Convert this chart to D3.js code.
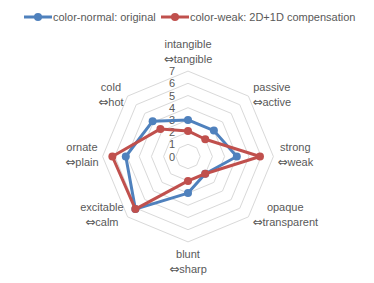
<!doctype html>
<html>
<head>
<meta charset="utf-8"/>
<style>
  html, body { margin: 0; padding: 0; background: #fff; }
  svg text { font-family: "Liberation Sans", Arial, sans-serif; font-size: 11px; fill: #595959; }
  svg tspan.arrow { font-family: "DejaVu Sans", sans-serif; font-size: 12px; }
</style>
<script src="https://d3js.org/d3.v7.min.js"></script>
</head>
<body>
<svg id="chart" width="374" height="283"></svg>
<script>
// axes, clockwise from the top
var axisTop = ["intangible", "passive", "strong", "opaque", "blunt", "excitable", "ornate", "cold"];
var axisBottom = ["tangible", "active", "weak", "transparent", "sharp", "calm", "plain", "hot"];
var ticks = [0, 1, 2, 3, 4, 5, 6, 7];

var seriesNames = ["color-normal: original", "color-weak: 2D+1D compensation"];
var seriesColors = ["#4F81BD", "#C0504D"];
var normalValues = [3.0, 3.0, 4.0, 2.0, 3.0, 6.1, 5.1, 4.1];
var weakValues = [2.1, 2.0, 5.9, 2.0, 2.0, 6.1, 6.2, 3.2];

var svg = d3.select("#chart");
var cx = 188, cy = 156.5, R = 85.4;

var r = d3.scaleLinear().domain([0, 7]).range([0, R]);
var angle = d3.scaleLinear().domain([0, axisTop.length]).range([0, 2 * Math.PI]);

function pt(i, v) {
    var a = angle(i);
    return [cx + r(v) * Math.sin(a), cy - r(v) * Math.cos(a)];
}

// grid rings
var grid = svg.append("g");
ticks.slice(1).forEach(function(t) {
    grid.append("path")
        .attr("d", d3.line()(axisTop.map(function(d, i) { return pt(i, t); })) + "Z")
        .attr("fill", "none")
        .attr("stroke", "#D9D9D9")
        .attr("stroke-width", 1);
});

// tick labels
svg.append("g").selectAll("text")
    .data(ticks).enter()
    .append("text")
    .attr("x", cx - 13)
    .attr("y", function(d) { return cy - r(d); })
    .attr("dominant-baseline", "central")
    .attr("text-anchor", "end")
    .text(function(d) { return d; });

// axis labels
var labels = svg.append("g");
axisTop.forEach(function(name, i) {
    var a = angle(i);
    var v = pt(i, 7);
    var sx = Math.abs(Math.sin(a)) < 0.1 ? 0 : Math.sign(Math.sin(a));
    var sy = Math.sign(-Math.cos(a));
    var g = labels.append("g");
    var t1 = g.append("text").attr("text-anchor", "middle").attr("dominant-baseline", "central").text(name);
    var t2 = g.append("text").attr("text-anchor", "middle").attr("dominant-baseline", "central");
    t2.append("tspan").attr("class", "arrow").text("\u21D4");
    t2.append("tspan").text(axisBottom[i]);
    var w = Math.max(t1.node().getComputedTextLength(), t2.node().getComputedTextLength());
    var h = 30, gap = 4;
    var bx = v[0] + sx * (gap + w / 2);
    var by = v[1] + (sx === 0 ? sy * (5 + h / 2) : -2);
    t1.attr("x", bx).attr("y", by - 7.5);
    t2.attr("x", bx).attr("y", by + 7.5);
});

// series
[normalValues, weakValues].forEach(function(vals, s) {
    var pts = vals.map(function(v, i) { return pt(i, v); });
    svg.append("path")
        .attr("d", d3.line()(pts) + "Z")
        .attr("fill", "none")
        .attr("stroke", seriesColors[s])
        .attr("stroke-width", 3)
        .attr("stroke-linejoin", "round");
    svg.append("g").selectAll("circle")
        .data(pts).enter()
        .append("circle")
        .attr("cx", function(d) { return d[0]; })
        .attr("cy", function(d) { return d[1]; })
        .attr("r", 4)
        .attr("fill", seriesColors[s]);
});

// legend
var legendX = [24, 161];
seriesNames.forEach(function(name, s) {
    var g = svg.append("g").attr("transform", "translate(" + legendX[s] + ",17)");
    g.append("line").attr("x1", 0).attr("x2", 28).attr("y1", 0).attr("y2", 0)
        .attr("stroke", seriesColors[s]).attr("stroke-width", 3);
    g.append("circle").attr("cx", 14).attr("cy", 0).attr("r", 4).attr("fill", seriesColors[s]);
    g.append("text").attr("x", 29).attr("y", 0).attr("dominant-baseline", "central").text(name);
});
</script>
</body>
</html>
